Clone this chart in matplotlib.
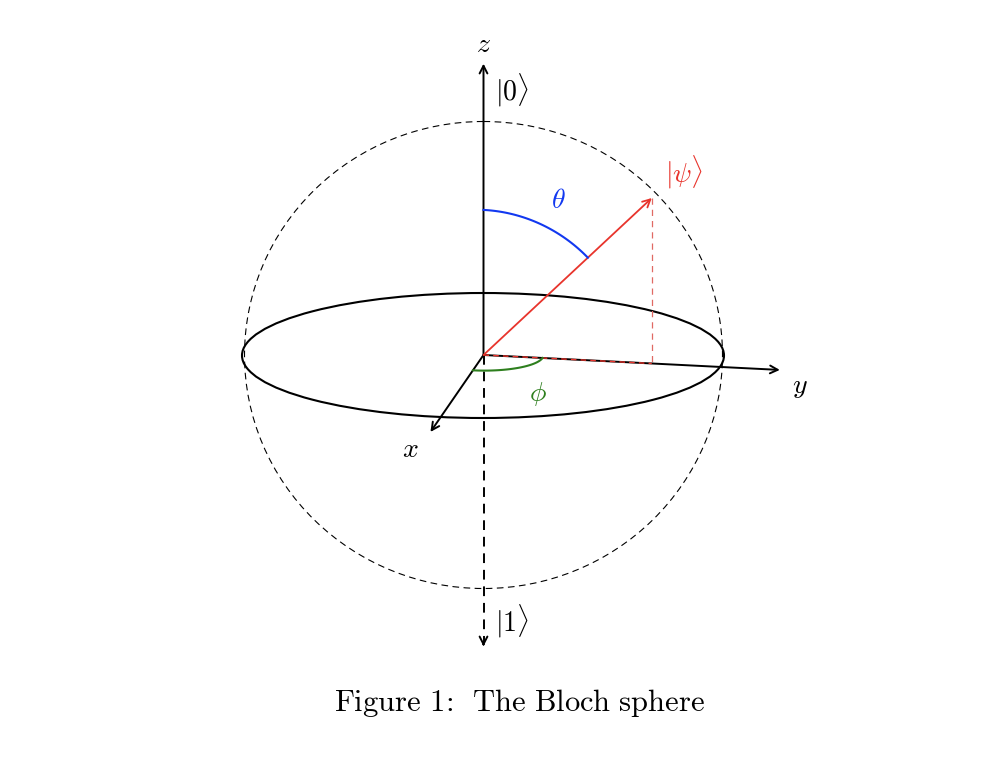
import numpy as np
from matplotlib import pyplot as plt
from matplotlib.patches import Ellipse

plt.rcParams['mathtext.fontset'] = 'cm'

# угол состояния |psi> (градусы)
theta_deg = 45
phi_deg = 90

axis_len = 1.245      # длина осей в радиусах сферы
theta_arc_r = 0.62    # радиус дуги theta
phi_arc_r = 0.248     # радиус дуги phi

# проекция: пиксели на единицу длины
origin = np.array([483.5, 355.0])
ex = np.array([-42.6, 61.8])
ey = np.array([238.0, 12.0])
ez = np.array([0.0, -234.0])

red = '#e8342c'
blue = '#1238f0'
green = '#2e7f1e'


def proj(x, y, z):
    return origin + x * ex + y * ey + z * ez


def arrow(ax, p0, p1, color='black', lw=1.4, ls='-', z=3):
    ax.annotate('', xy=p1, xytext=p0, zorder=z,
                arrowprops=dict(arrowstyle='->,head_length=0.55,head_width=0.28',
                                color=color, lw=lw, ls=ls, shrinkA=0, shrinkB=0))


fig = plt.figure(figsize=(9.84, 7.8), dpi=100)
ax = fig.add_axes([0, 0, 1, 1])
ax.set_xlim(0, 984)
ax.set_ylim(780, 0)
ax.axis('off')

# сфера и экватор
ax.add_patch(Ellipse(origin, 2 * 239, 2 * 233.5, fill=False, ec='black',
                     lw=0.8, ls=(0, (6, 4))))
ax.add_patch(Ellipse((483, 355.5), 2 * 241, 2 * 62.5, fill=False, ec='black', lw=1.5))

# оси
arrow(ax, origin, proj(0, 0, axis_len))
arrow(ax, origin, proj(axis_len, 0, 0))
arrow(ax, origin, proj(0, axis_len, 0))
bottom = proj(0, 0, -axis_len)
ax.plot([origin[0], bottom[0]], [origin[1], bottom[1] - 4], c='black', lw=1.4,
        ls=(0, (5, 3.5)))
arrow(ax, bottom + np.array([0, -3]), bottom)

# вектор состояния
th = np.radians(theta_deg)
ph = np.radians(phi_deg)
sx, sy, sz = np.sin(th) * np.cos(ph), np.sin(th) * np.sin(ph), np.cos(th)
tip = proj(sx, sy, sz)
foot = proj(sx, sy, 0)
ax.plot([origin[0], foot[0]], [origin[1], foot[1]], c=red, lw=1.0, ls=(0, (4, 3)),
        zorder=5)
ax.plot([tip[0], foot[0]], [tip[1], foot[1]], c='#e06a64', lw=0.9, ls=(0, (5, 4)))
arrow(ax, origin, tip, color=red, lw=1.3, z=5)

# дуга theta
t = np.linspace(0, th, 60)
pts = np.array([proj(theta_arc_r * np.sin(a) * np.cos(ph),
                     theta_arc_r * np.sin(a) * np.sin(ph),
                     theta_arc_r * np.cos(a)) for a in t])
ax.plot(pts[:, 0], pts[:, 1], c=blue, lw=1.5, zorder=5)

# дуга phi
t = np.linspace(0, ph, 60)
pts = np.array([proj(phi_arc_r * np.cos(a), phi_arc_r * np.sin(a), 0) for a in t])
ax.plot(pts[:, 0], pts[:, 1], c=green, lw=1.5, zorder=5)

fs = 20
ax.text(484, 44, r'$z$', fontsize=fs, ha='center', va='center')
ax.text(410, 449, r'$x$', fontsize=fs, ha='center', va='center')
ax.text(800, 386, r'$y$', fontsize=fs, ha='center', va='center')
ax.text(495, 90, r'$|0\rangle$', fontsize=fs, ha='left', va='center')
ax.text(495, 621, r'$|1\rangle$', fontsize=fs, ha='left', va='center')
ax.text(684, 172, r'$|\psi\rangle$', fontsize=fs, ha='center', va='center', color=red)
ax.text(558, 200, r'$\theta$', fontsize=fs, ha='center', va='center', color=blue)
ax.text(538, 394, r'$\phi$', fontsize=fs, ha='center', va='center', color=green)

ax.text(520, 703, r'$\mathrm{Figure\ 1\!{:}\ \,The\ Bloch\ sphere}$', fontsize=22,
        ha='center', va='center')

fig.savefig('out.png', dpi=100)
